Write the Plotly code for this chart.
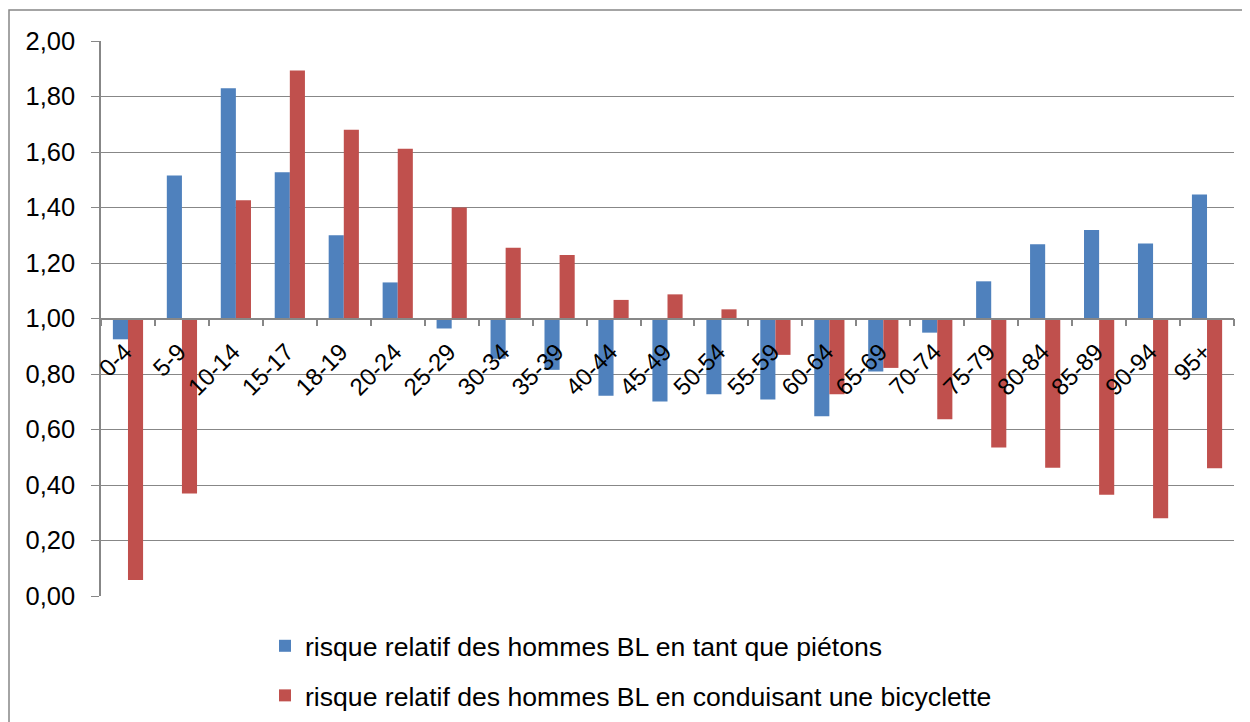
import plotly.graph_objects as go

categories = ["0-4", "5-9", "10-14", "15-17", "18-19", "20-24", "25-29", "30-34", "35-39",
              "40-44", "45-49", "50-54", "55-59", "60-64", "65-69", "70-74", "75-79",
              "80-84", "85-89", "90-94", "95+"]
pietons = [0.925, 1.515, 1.830, 1.527, 1.300, 1.130, 0.964, 0.855, 0.815,
           0.722, 0.701, 0.727, 0.708, 0.648, 0.809, 0.949, 1.134,
           1.268, 1.319, 1.270, 1.447]
bicyclette = [0.058, 0.369, 1.426, 1.894, 1.680, 1.612, 1.400, 1.255, 1.229,
              1.067, 1.087, 1.033, 0.869, 0.727, 0.822, 0.637, 0.535,
              0.462, 0.365, 0.280, 0.460]
names = ["risque relatif des hommes BL en tant que piétons",
         "risque relatif des hommes BL en conduisant une bicyclette"]
colors = ["#4F81BD", "#C0504D"]
baseline = 1.0
ytickvals = [0, 0.2, 0.4, 0.6, 0.8, 1.0, 1.2, 1.4, 1.6, 1.8, 2.0]

FONT = "Liberation Sans, Arial, sans-serif"
GRID = "#878787"

fig = go.Figure()
for i, (vals, name, col) in enumerate(zip([pietons, bicyclette], names, colors)):
    fig.add_trace(go.Bar(
        x=categories,
        y=[v - baseline for v in vals],
        base=baseline,
        name=name,
        marker=dict(color=col, line=dict(width=0)),
        legendgroup=f"g{i}",
    ))

W, H = 1250, 722
OFF = 8  # page body margin offset
# target page pixel positions of plot area
px_left, px_right, px_top, px_bottom = 101, 1234, 41, 596
L = px_left - OFF
R = W - (px_right - OFF)
T = px_top - OFF
B = H - (px_bottom - OFF)
pw = W - L - R
ph = H - T - B

fig.update_layout(
    width=W, height=H,
    margin=dict(l=L, r=R, t=T, b=B, pad=0, autoexpand=False),
    paper_bgcolor="white", plot_bgcolor="white",
    barmode="group", bargap=0.44, bargroupgap=0,
    separators=", ",
    font=dict(family=FONT, size=24, color="black"),
    showlegend=True,
    legend=dict(
        xref="container", yref="container",
        x=(265 - OFF) / W, xanchor="left",
        y=(H - (622 - OFF)) / H, yanchor="top",
        orientation="v", traceorder="grouped", tracegroupgap=12,
        font=dict(family=FONT, size=26.6, color="black"),
        bgcolor="rgba(0,0,0,0)",
    ),
    xaxis=dict(
        type="category",
        anchor="free", position=0.5,
        automargin=False,
        showgrid=False,
        showline=True, linecolor=GRID, linewidth=1.5,
        ticks="outside", tickson="boundaries", ticklen=7, tickcolor=GRID, tickwidth=1.5,
        tickangle=-45,
        ticklabelstandoff=9, ticklabelshift=-3,
        tickfont=dict(family=FONT, size=24, color="black"),
        fixedrange=True,
    ),
    yaxis=dict(
        range=[0, 2], tickvals=ytickvals, tickformat=".2f",
        automargin=False,
        showgrid=True, gridcolor=GRID, gridwidth=1.2,
        showline=True, linecolor=GRID, linewidth=1.5,
        ticks="outside", ticklen=8, tickcolor=GRID, tickwidth=1.2,
        ticklabelstandoff=11,
        tickfont=dict(family=FONT, size=25.5, color="black"),
        zeroline=False,
        fixedrange=True,
    ),
)

# chart-area border
fig.add_shape(type="rect", xref="paper", yref="paper",
              x0=(9 - px_left) / pw, x1=(1270 - px_left) / pw,
              y0=(px_bottom - 740) / ph, y1=(px_bottom - 10) / ph,
              line=dict(color=GRID, width=1.5), fillcolor="rgba(0,0,0,0)", layer="below")

fig.write_html("out.html")
